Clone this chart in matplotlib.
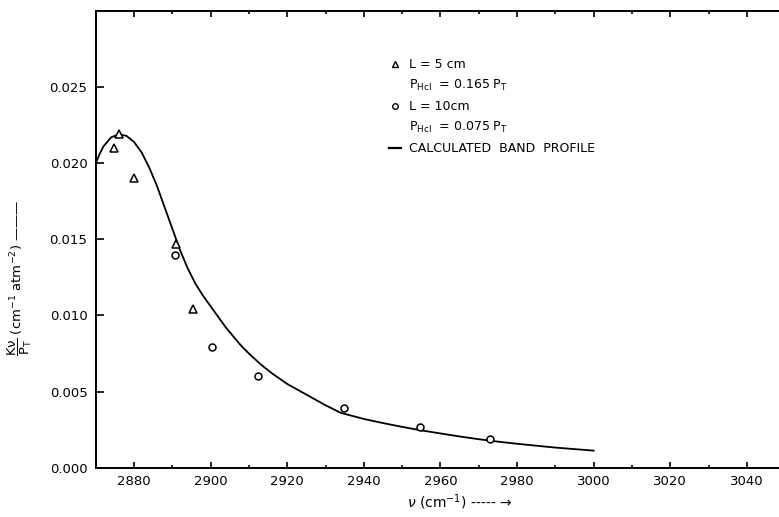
import matplotlib.pyplot as plt
from matplotlib.lines import Line2D
from matplotlib.ticker import MultipleLocator, FormatStrFormatter

# Data
# L = 5 cm, P_HCl = 0.165 P_T (triangles)
tri_nu = [2874.8, 2876.1, 2880.0, 2890.9, 2895.3]
tri_k = [0.0210, 0.0219, 0.0190, 0.0147, 0.0104]

# L = 10 cm, P_HCl = 0.075 P_T (circles)
circ_nu = [2890.6, 2900.4, 2912.4, 2934.9, 2954.7, 2972.9]
circ_k = [0.0140, 0.0079, 0.0060, 0.0039, 0.0027, 0.0019]

# calculated band profile
calc_nu = [2870, 2871, 2872, 2873, 2874, 2876, 2878, 2880, 2882, 2884,
           2886, 2888, 2890, 2892, 2894, 2896, 2898, 2900, 2902, 2904,
           2906, 2908, 2910, 2913, 2916, 2920, 2925, 2930, 2934, 2940,
           2945, 2950, 2955, 2960, 2965, 2970, 2975, 2980, 2990, 3000]
calc_k = [0.0200, 0.0206, 0.0211, 0.0214, 0.0217, 0.0219, 0.0218, 0.0214,
          0.0207, 0.0197, 0.0185, 0.0171, 0.0157, 0.0143, 0.0131, 0.0121,
          0.0113, 0.0106, 0.0099, 0.0092, 0.0086, 0.0080, 0.0075, 0.0068,
          0.0062, 0.0055, 0.0048, 0.0041, 0.0036, 0.00320, 0.00293, 0.00268,
          0.00245, 0.00225, 0.00205, 0.00187, 0.00171, 0.00157, 0.00132,
          0.00112]

fig = plt.figure(figsize=(7.79, 5.17), dpi=100)
ax = fig.add_axes([0.1229, 0.0954, 0.8771, 0.8833])

ax.plot(calc_nu, calc_k, color="black", linewidth=1.3)
ax.plot(tri_nu, tri_k, linestyle="none", marker="^", markersize=6,
        markerfacecolor="white", markeredgecolor="black", markeredgewidth=1.1)
ax.plot(circ_nu, circ_k, linestyle="none", marker="o", markersize=5,
        markerfacecolor="white", markeredgecolor="black", markeredgewidth=1.1)

ax.set_xlim(2870, 3048.4)
ax.set_ylim(0, 0.030)
ax.xaxis.set_major_locator(MultipleLocator(20))
ax.xaxis.set_minor_locator(MultipleLocator(10))
ax.yaxis.set_major_formatter(FormatStrFormatter("%.3f"))
ax.set_yticks([0, 0.005, 0.010, 0.015, 0.020, 0.025])

ax.spines["right"].set_visible(False)
for s in ["left", "bottom", "top"]:
    ax.spines[s].set_linewidth(1.4)

ax.tick_params(axis="both", which="both", direction="in", labelsize=9.5,
               top=True, right=False, width=1.2)
ax.tick_params(axis="x", which="major", length=4, pad=5)
ax.tick_params(axis="x", which="minor", length=2)
ax.tick_params(axis="y", which="major", length=6, pad=6)

# legend
handles = [
    Line2D([], [], linestyle="none", marker="^", markersize=5,
           markerfacecolor="white", markeredgecolor="black"),
    Line2D([], [], linestyle="none"),
    Line2D([], [], linestyle="none", marker="o", markersize=4,
           markerfacecolor="white", markeredgecolor="black"),
    Line2D([], [], linestyle="none"),
    Line2D([], [], color="black", linewidth=1.6),
]
labels = [
    "L = 5 cm",
    r"$\mathrm{P_{Hcl}}$  = 0.165 $\mathrm{P_T}$",
    "L = 10cm",
    r"$\mathrm{P_{Hcl}}$  = 0.075 $\mathrm{P_T}$",
    "CALCULATED  BAND  PROFILE",
]
ax.legend(handles, labels, loc="upper left", bbox_to_anchor=(0.42, 0.91),
          frameon=False, fontsize=9, handlelength=1.0, handletextpad=0.6,
          labelspacing=0.55, borderpad=0)

fig.text(20 / 779, 1 - 278 / 517,
         r"$\dfrac{\mathrm{K\nu}}{\mathrm{P_T}}$ (cm$^{-1}$ atm$^{-2}$) ———",
         rotation=90, ha="center", va="center", fontsize=9.5)
fig.text(460 / 779, 1 - 502 / 517, r"$\nu$ (cm$^{-1}$) ----- →",
         ha="center", va="center", fontsize=10)

fig.savefig("out.png", dpi=100)
